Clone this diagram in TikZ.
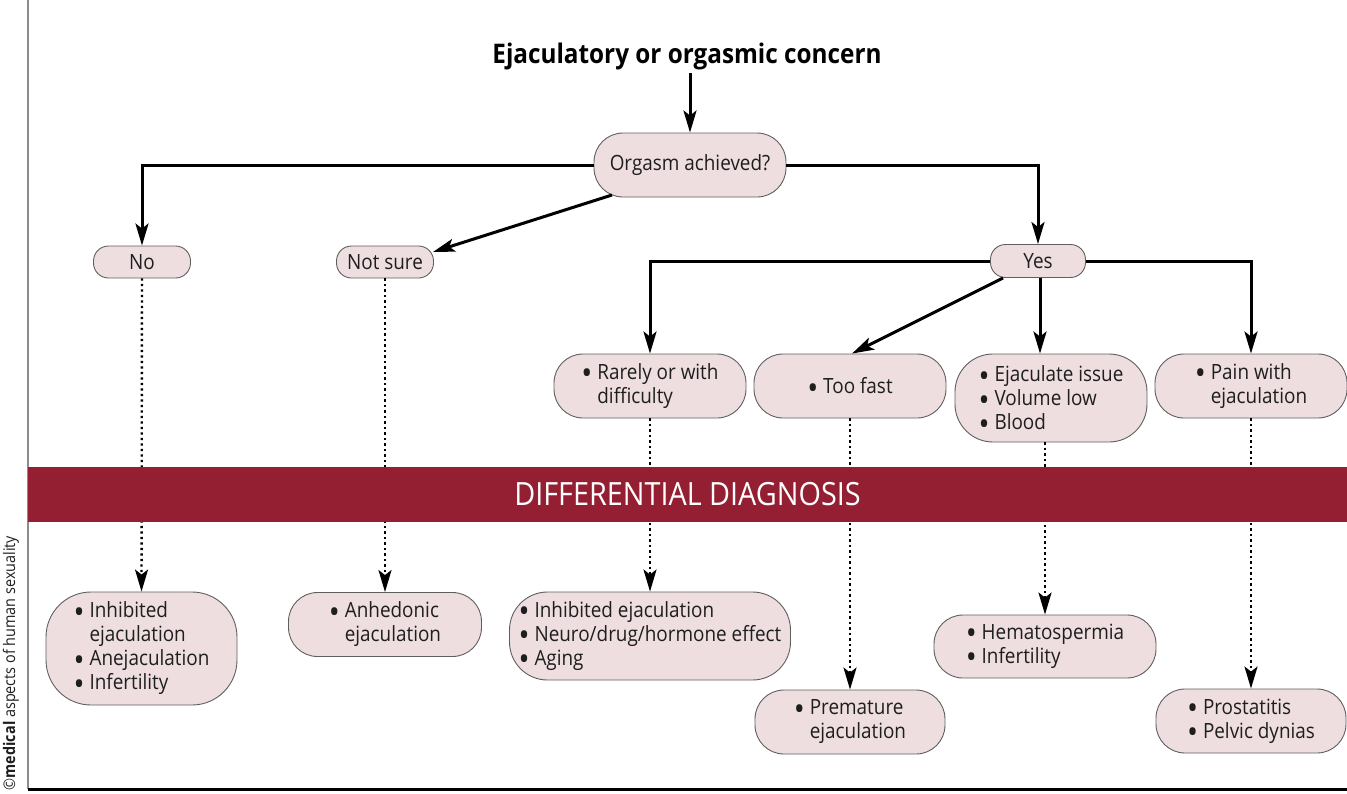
\documentclass[tikz,border=0pt]{standalone}
\usepackage{fontspec}
\setmainfont{Open Sans}[FakeStretch=0.9]
\usetikzlibrary{arrows.meta,calc}
\definecolor{boxfill}{RGB}{238,222,224}
\definecolor{boxdraw}{RGB}{95,95,95}
\definecolor{bandred}{RGB}{149,31,50}
\definecolor{txt}{RGB}{30,30,30}
\newcommand{\bu}{\raisebox{-0.25em}[0pt][0pt]{\scalebox{1.55}{\textbullet}}\ }
\newcommand{\ind}{\hphantom{\bu}}
\tikzset{
  box/.style={draw=boxdraw, line width=0.9pt, fill=boxfill, inner sep=0pt, align=left,
    font=\fontsize{21}{24}\selectfont, text=txt},
  pillS/.style={box, rounded corners=15pt, minimum height=32pt},
  pillL/.style={box, rounded corners=29pt},
  arr/.style={line width=3pt, -{Stealth[length=22pt,width=13pt,inset=5pt]}},
  dotarr/.style={line width=2.4pt, dash pattern=on 2.2pt off 3.3pt,
    -{Stealth[length=22pt,width=13pt,inset=5pt]}},
}
\begin{document}
\begin{tikzpicture}[x=1pt,y=-1pt]
\useasboundingbox (0,0) rectangle (1347,793);
% frame lines
\draw[gray!90, line width=1.8pt] (28,0) -- (28,789);
\draw[black, line width=3pt] (28,789) -- (1347,789);
% sidebar
\node[rotate=90, font=\fontsize{16}{18}\selectfont, text=txt] (side) at (11,663) {©\textbf{medical} aspects of human sexuality};
% title
\node[font=\fontsize{27}{30}\selectfont\bfseries, text=black] (title) at (687,56) {Ejaculatory or orgasmic concern};
% level 1
\node[pillL, minimum width=192pt, minimum height=64pt] (orgasm) at (690,165) {Orgasm achieved?};
% level 2
\node[pillS, minimum width=97pt] (no) at (142,262) {No};
\node[pillS, minimum width=97pt] (notsure) at (385,262) {Not sure};
\node[pillS, minimum width=95pt, minimum height=33pt] (yes) at (1038,261) {Yes};
% level 3
\node[pillL, minimum width=192pt, minimum height=64pt] (rarely) at (650,386) {\bu Rarely or with\\\ind difficulty};
\node[pillL, minimum width=192pt, minimum height=64pt] (toofast) at (850,386) {\bu Too fast};
\node[pillL, rounded corners=38pt, minimum width=192pt, minimum height=88pt] (ejac) at (1051,398) {\bu Ejaculate issue\\\bu Volume low\\\bu Blood};
\node[pillL, minimum width=192pt, minimum height=64pt] (pain) at (1251,386) {\bu Pain with\\\ind ejaculation};
% diagnoses
\node[pillL, rounded corners=45pt, minimum width=191pt, minimum height=113pt] (inhib) at (141.5,648.5) {\bu Inhibited\\\ind ejaculation\\\bu Anejaculation\\\bu Infertility};
\node[pillL, minimum width=193pt, minimum height=64pt] (anhed) at (385,624.5) {\bu Anhedonic\\\ind ejaculation};
\node[pillL, rounded corners=38pt, minimum width=281pt, minimum height=88pt] (inhib2) at (650,636) {\bu Inhibited ejaculation\\\bu Neuro/drug/hormone effect\\\bu Aging};
\node[pillL, minimum width=190pt, minimum height=64pt] (premature) at (850,722) {\bu Premature\\\ind ejaculation};
\node[pillL, minimum width=222pt, minimum height=63pt] (hema) at (1045,646.5) {\bu Hematospermia\\\bu Infertility};
\node[pillL, minimum width=190pt, minimum height=64pt] (prost) at (1251,721) {\bu Prostatitis\\\bu Pelvic dynias};
% solid connectors
\draw[arr] (title.south -| orgasm.north) -- (orgasm.north);
\draw[arr] (orgasm.west) -| (no.north);
\draw[arr] (orgasm.east) -| (yes.north);
\draw[arr] ([xshift=-78pt,yshift=-30pt]orgasm.center) -- ([xshift=-1pt,yshift=10pt]notsure.east);
\draw[arr] (yes.west) -| (rarely.north);
\draw[arr] (yes.east) -| (pain.north);
\draw[arr] ([xshift=-35pt]yes.south) -- ([xshift=2pt]toofast.north);
\draw[arr] ([xshift=2pt]yes.south) -- ([xshift=2pt]yes.south |- ejac.north);
% dotted connectors
\draw[dotarr] (no.south) -- (inhib.north);
\draw[dotarr] (notsure.south) -- (anhed.north);
\draw[dotarr] (rarely.south) -- (inhib2.north);
\draw[dotarr] (toofast.south) -- (premature.north);
\draw[dotarr] (hema.north |- ejac.south) -- (hema.north);
\draw[dotarr] (pain.south) -- (prost.north);
% band
\node[fill=bandred, inner sep=0pt, minimum width=1319pt, minimum height=55pt,
  text=white, font=\fontsize{32}{34}\selectfont] (band) at (687.5,494.5) {DIFFERENTIAL DIAGNOSIS};
\end{tikzpicture}
\end{document}
